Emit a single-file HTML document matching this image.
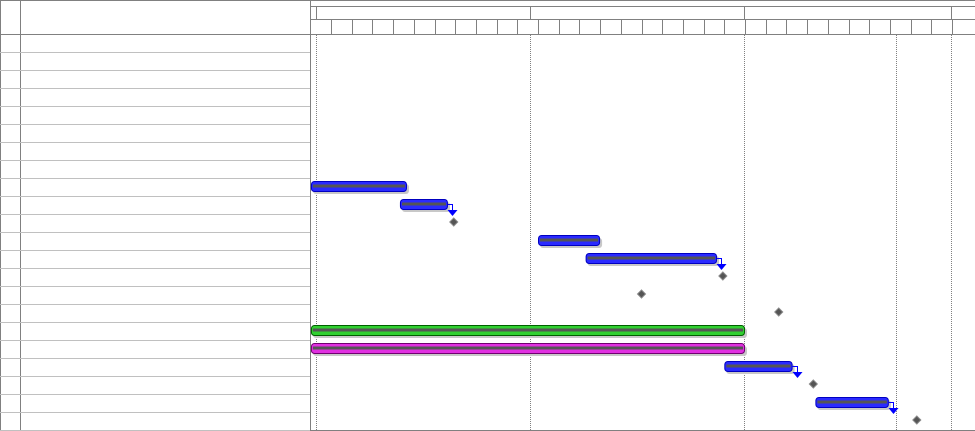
<!DOCTYPE html>
<html><head><meta charset="utf-8"><style>
body{margin:0;background:#fff;width:975px;height:431px;overflow:hidden;font-family:"Liberation Sans",sans-serif}
svg{display:block}
</style></head><body>
<svg id="g" width="975" height="431"></svg>
<script>
const rowLabels = ["","","","","","","","","","","","","","","","","","","","","",""];
const taskRows = [8, 9, 11, 12, 16, 17, 18, 20];
const taskStarts = [0.03, 4.33, 11, 13.3, 0.03, 0.03, 20, 24.4];
const taskEnds = [4.67, 6.65, 14, 19.65, 21, 21, 23.3, 27.95];
const taskKinds = ["blue","blue","blue","blue","green","magenta","blue","blue"];
const linkFrom = [1, 3, 6, 7];
const linkToRow = [10, 13, 19, 21];
const msRows = [10, 13, 14, 15, 19, 21];
const msDays = [6.93, 19.93, 16, 22.63, 24.3, 29.3];

const NS="http://www.w3.org/2000/svg", svg=document.getElementById('g');
const X0=310.3, DW=20.7, HDR=34, RH=18;
const x=d=>X0+d*DW, yTop=r=>HDR+r*RH;
function el(t,a,p){const e=document.createElementNS(NS,t);for(const k in a)e.setAttribute(k,a[k]);(p||svg).appendChild(e);return e;}

let e;
e=el('rect',{x:0.5,y:0.5,width:976,height:430,fill:'none',stroke:'#808080'});

e=el('line',{x1:0,y1:34.5,x2:975,y2:34.5,stroke:'#808080'});

el('line',{x1:20.5,y1:0,x2:20.5,y2:431,stroke:'#808080'});
el('line',{x1:310.5,y1:0,x2:310.5,y2:431,stroke:'#808080'});
el('line',{x1:310,y1:6.5,x2:975,y2:6.5,stroke:'#808080'});
el('line',{x1:310,y1:19.5,x2:975,y2:19.5,stroke:'#808080'});
[316.5,530.5,744.5,951.5].forEach(v=>{el('line',{x1:v,y1:6,x2:v,y2:19,stroke:'#808080'});});
for(let i=1;i<32;i++){const v=Math.round(x(i))+0.5;if(v<975)el('line',{x1:v,y1:19,x2:v,y2:34,stroke:'#808080'});}
rowLabels.forEach((l,r)=>{
  const y=yTop(r+1)+0.5;
  const ln=el('line',{x1:0,y1:y,x2:310,y2:y,stroke:'#c0c0c0'});
  
  
});
[316.5,530.5,744.5,896.5,951.5].forEach(v=>{
  const d=el('line',{x1:v,y1:35,x2:v,y2:431,stroke:'#808080','stroke-dasharray':'1,1'});
  
  
});
const cols={blue:['#2a2aff','#0000c0'],green:['#30d030','#006000'],magenta:['#e030e0','#700070']};
taskRows.forEach((r,i)=>{
  const x1=x(taskStarts[i]),x2=x(taskEnds[i]),y=yTop(r)+3;
  const c=cols[taskKinds[i]];
  el('rect',{x:x1+2,y:y+3,width:x2-x1,height:10,rx:3,fill:'#c8c8c8'});
  const b=el('rect',{x:x1+0.5,y:y+0.5,width:x2-x1-1,height:10,rx:3,fill:c[0],stroke:c[1]});
  
  
  el('rect',{x:x1+2,y:y+3.5,width:x2-x1-4,height:3,fill:'#555'});
});
linkFrom.forEach((t,i)=>{
  const xe=x(taskEnds[t]),y=yTop(taskRows[t])+8.5;
  const ax=Math.round(xe+4)+0.5,ay=yTop(linkToRow[i])+2;
  const p=el('path',{d:`M${xe},${y}H${ax}V${ay-5}`,fill:'none',stroke:'#0000ff'});
  
  
  el('path',{d:`M${ax-5},${ay-6}H${ax+5}L${ax},${ay}Z`,fill:'#0000ff'});
});
msRows.forEach((r,i)=>{
  const cx=x(msDays[i]),cy=yTop(r)+8;
  const m=el('path',{d:`M${cx},${cy-4}L${cx+4},${cy}L${cx},${cy+4}L${cx-4},${cy}Z`,fill:'#555',stroke:'#888'});
  
  
});
</script>
</body></html>
